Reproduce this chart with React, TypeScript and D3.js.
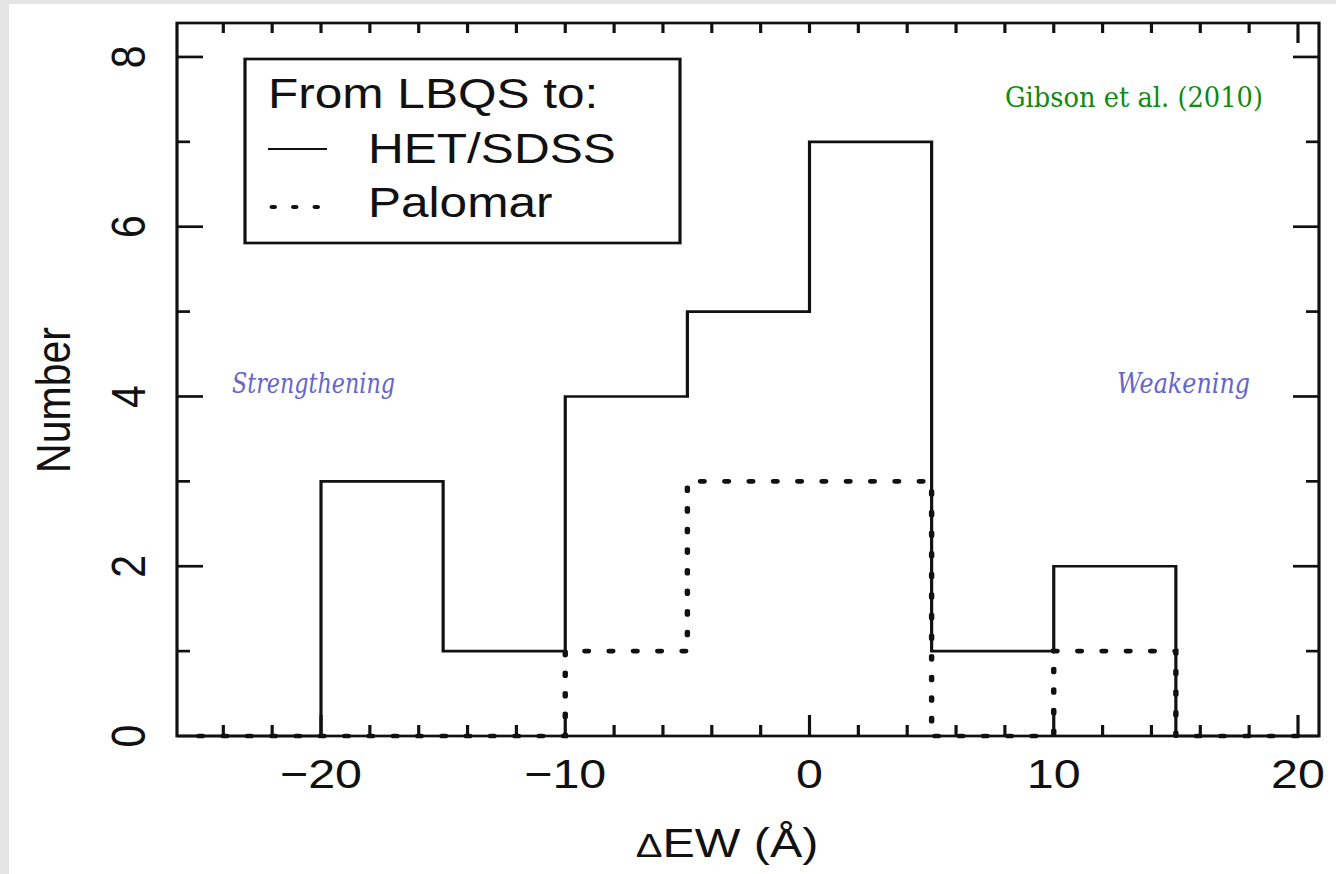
import React from "react";
import * as d3 from "d3";

// Histogram of equivalent-width changes (bin edges in Å, counts per bin)
const binEdges = [-25, -20, -15, -10, -5, 0, 5, 10, 15, 20];
const hetSdssCounts = [0, 3, 1, 4, 5, 7, 1, 2, 0];
const palomarCounts = [0, 0, 0, 1, 3, 3, 0, 1, 0];

const xMajorTicks = [-20, -10, 0, 10, 20];
const xMinorTicks = [-24, -22, -18, -16, -14, -12, -8, -6, -4, -2, 2, 4, 6, 8, 12, 14, 16, 18];
const yMajorTicks = [0, 2, 4, 6, 8];
const yMinorTicks = [1, 3, 5, 7];

const legendTitle = "From LBQS to:";
const legendSeries = ["HET/SDSS", "Palomar"];

const W = 1336;
const H = 874;
// the figure is drawn with a horizontal stretch
const SX = 1.18;
const L = 177, R = 1319, T = 23, B = 736;

const FONT = "'Liberation Sans', Arial, Helvetica, sans-serif";
const NOTE_FONT = "'DejaVu Serif', serif";

const x = d3.scaleLinear().domain([-25.896, 20.86]).range([L / SX, R / SX]);
const y = d3.scaleLinear().domain([0, 8.4]).range([B, T]);

function stepPoints(counts: number[]): [number, number][] {
  const n = counts.length;
  const pts: [number, number][] = [[binEdges[0], 0]];
  for (let i = 0; i < n; i++) pts.push([binEdges[i], counts[i]]);
  pts.push([binEdges[n], counts[n - 1]]);
  pts.push([binEdges[n], 0]);
  return pts;
}

const stepLine = d3
  .line<[number, number]>()
  .x((d) => x(d[0]))
  .y((d) => y(d[1]))
  .curve(d3.curveStepAfter);

const fmt = (v: number) => (v < 0 ? "\u2212" + Math.abs(v) : String(v));

const SW = 2.7;
const DOT = { strokeWidth: 4.6, strokeDasharray: "3 17.6", strokeLinecap: "round" as const };

export default function App() {
  const xl = L / SX;
  const xr = R / SX;
  return (
    <div style={{ position: "absolute", left: 0, top: 0 }}>
      <svg width={W} height={H} viewBox={`0 0 ${W} ${H}`} style={{ display: "block" }}>
        <rect x={0} y={0} width={W} height={H} fill="#ffffff" />
        <rect x={0} y={0} width={W} height={4} fill="#e4e4e4" />
        <rect x={0} y={0} width={9} height={H} fill="#e4e4e4" />

        <g transform={`scale(${SX},1)`}>
          {/* histograms */}
          <path d={stepLine(stepPoints(hetSdssCounts)) || ""} fill="none" stroke="#111" strokeWidth={SW} />
          <path
            d={stepLine(stepPoints(palomarCounts)) || ""}
            fill="none"
            stroke="#111"
            {...DOT}
          />

          {/* frame */}
          <rect x={xl} y={T} width={xr - xl} height={B - T} fill="none" stroke="#111" strokeWidth={SW} />

          {/* y ticks, left and right */}
          {yMajorTicks.map((v) => (
            <g key={"ym" + v}>
              <line x1={xl} x2={xl + 26 / SX} y1={y(v)} y2={y(v)} stroke="#111" strokeWidth={SW} />
              <line x1={xr} x2={xr - 26 / SX} y1={y(v)} y2={y(v)} stroke="#111" strokeWidth={SW} />
            </g>
          ))}
          {yMinorTicks.map((v) => (
            <g key={"yn" + v}>
              <line x1={xl} x2={xl + 13 / SX} y1={y(v)} y2={y(v)} stroke="#111" strokeWidth={SW} />
              <line x1={xr} x2={xr - 13 / SX} y1={y(v)} y2={y(v)} stroke="#111" strokeWidth={SW} />
            </g>
          ))}

          {/* x ticks, bottom and top */}
          {xMajorTicks.map((v) => (
            <g key={"xm" + v}>
              <line x1={x(v)} x2={x(v)} y1={B} y2={B - 21} stroke="#111" strokeWidth={SW} />
              <line x1={x(v)} x2={x(v)} y1={T} y2={T + (v === 20 ? 20 : 10)} stroke="#111" strokeWidth={SW} />
            </g>
          ))}
          {xMinorTicks.map((v) => (
            <g key={"xn" + v}>
              <line x1={x(v)} x2={x(v)} y1={B} y2={B - 11} stroke="#111" strokeWidth={SW} />
              <line x1={x(v)} x2={x(v)} y1={T} y2={T + 10} stroke="#111" strokeWidth={SW} />
            </g>
          ))}

          {/* tick labels */}
          {xMajorTicks.map((v) => (
            <text key={"xt" + v} x={x(v)} y={788} textAnchor="middle" fontFamily={FONT} fontSize={41} fill="#111">
              {fmt(v)}
            </text>
          ))}
          {yMajorTicks.map((v) => (
            <text
              key={"yt" + v}
              transform={`translate(${145 / SX},${y(v)}) rotate(-90)`}
              textAnchor="middle"
              fontFamily={FONT}
              fontSize={41}
              fill="#111"
            >
              {fmt(v)}
            </text>
          ))}

          {/* axis titles */}
          <text x={727 / SX} y={857} textAnchor="middle" fontFamily={FONT} fontSize={41} fill="#111">
            <tspan fontSize={34}>{"\u0394"}</tspan>
            {"EW (\u00C5)"}
          </text>
          <text
            transform={`translate(${70 / SX},400) rotate(-90)`}
            textAnchor="middle"
            fontFamily={FONT}
            fontSize={41}
            fill="#111"
          >
            Number
          </text>

          {/* legend */}
          <rect x={245 / SX} y={59} width={(680 - 245) / SX} height={184} fill="#fff" stroke="#111" strokeWidth={SW} />
          <text x={268 / SX} y={108} fontFamily={FONT} fontSize={42} fill="#111">
            {legendTitle}
          </text>
          <line x1={268 / SX} x2={327 / SX} y1={149} y2={149} stroke="#111" strokeWidth={2} />
          <text x={368 / SX} y={163} fontFamily={FONT} fontSize={42} fill="#111">
            {legendSeries[0]}
          </text>
          <line
            x1={272 / SX}
            x2={324 / SX}
            y1={207}
            y2={207}
            stroke="#111"
            strokeWidth={4.2}
            strokeLinecap="round"
            strokeDasharray="2.2 16"
          />
          <text x={368 / SX} y={217} fontFamily={FONT} fontSize={42} fill="#111">
            {legendSeries[1]}
          </text>
        </g>

        {/* annotations */}
        <text
          x={1005}
          y={107}
          fontFamily={NOTE_FONT}
          fontSize={28}
          fill="#108a10"
          textLength={258}
          lengthAdjust="spacingAndGlyphs"
        >
          Gibson et al. (2010)
        </text>
        <text
          x={232}
          y={393}
          fontFamily={NOTE_FONT}
          fontStyle="italic"
          fontSize={27}
          fill="#6565cc"
          textLength={163}
          lengthAdjust="spacingAndGlyphs"
        >
          Strengthening
        </text>
        <text
          x={1117}
          y={393}
          fontFamily={NOTE_FONT}
          fontStyle="italic"
          fontSize={27}
          fill="#6565cc"
          textLength={133}
          lengthAdjust="spacingAndGlyphs"
        >
          Weakening
        </text>
      </svg>
    </div>
  );
}
